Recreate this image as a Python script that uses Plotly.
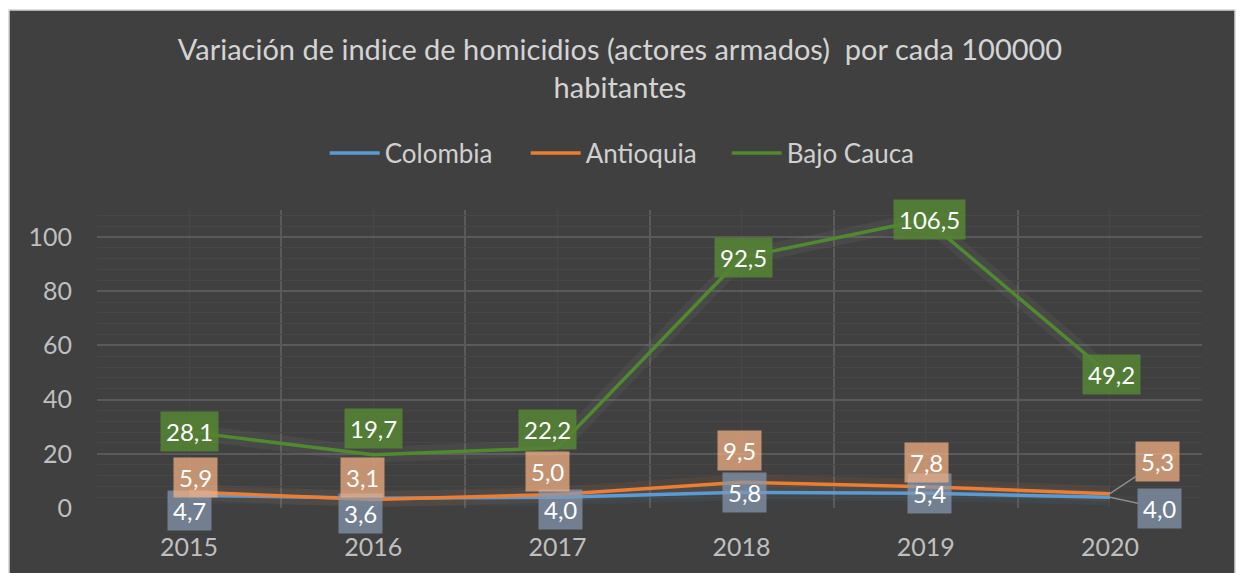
import plotly.graph_objects as go

# ---- data ----
years = ["2015", "2016", "2017", "2018", "2019", "2020"]
colombia = [4.7, 3.6, 4.0, 5.8, 5.4, 4.0]
antioquia = [5.9, 3.1, 5.0, 9.5, 7.8, 5.3]
bajo_cauca = [28.1, 19.7, 22.2, 92.5, 106.5, 49.2]
series_names = ["Colombia", "Antioquia", "Bajo Cauca"]
title_text = "Variación de indice de homicidios (actores armados)  por cada 100000<br>habitantes"

# ---- style / layout config ----
W, H = 1240, 573
ML, MR, MT, MB = 97, 38, 210, 65
PW, PH = W - ML - MR, H - MT - MB
line_colors = ["#5b9bd5", "#ed7d31", "#4f8a2e"]
shadow_colors = ["rgba(91,155,213,0.07)", "rgba(237,125,49,0.08)", "rgba(160,160,160,0.09)"]
box_colors = ["rgba(132,151,176,0.72)", "rgba(244,177,131,0.72)", "rgba(84,130,53,0.9)"]
# label offsets (xshift, yshift) in px for each series/point; ("arrow", ax, ay) -> leader line
label_offsets = [
    [(0, -15), (-13, -15), (3, -12), (3, 0), (4, 0), ("arrow", 50, 11)],
    [(6, 15), (-11, 22), (-10, 23), (-2, 32), (1, 24), ("arrow", 48, -32)],
    [(0, 0), (0, 26), (-10, 18), (2, 0), (4, 0), (2, 0)],
]
FONT = "Lato"

def px_to_paper_x(px):
    return (px - ML) / PW

def px_to_paper_y(py):
    return (H - MB - py) / PH

xs = list(range(len(years)))
all_series = [colombia, antioquia, bajo_cauca]

fig = go.Figure()

# soft shadows
for vals, sc in zip(all_series, shadow_colors):
    fig.add_trace(go.Scatter(x=xs, y=vals, mode="lines",
                             line=dict(color=sc, width=16),
                             hoverinfo="skip", showlegend=False))

for name, vals, lc in zip(series_names, all_series, line_colors):
    fig.add_trace(go.Scatter(x=xs, y=vals, mode="lines", name=name,
                             line=dict(color=lc, width=3.5)))

annotations = []
for vals, bc, offs in zip(all_series, box_colors, label_offsets):
    for i, v in enumerate(vals):
        txt = f"{v:.1f}".replace(".", ",")
        o = offs[i]
        base = dict(x=xs[i], y=v, xref="x", yref="y", text=txt,
                    font=dict(family=FONT, size=24, color="white"),
                    bgcolor=bc, borderpad=5)
        if o[0] == "arrow":
            base.update(showarrow=True, ax=o[1], ay=o[2], axref="pixel", ayref="pixel",
                        arrowhead=0, arrowwidth=1.5, arrowcolor="#8c8c8c", standoff=0)
        else:
            base.update(showarrow=False, xshift=o[0], yshift=o[1])
        annotations.append(base)

shapes = [
    dict(type="rect", xref="paper", yref="paper",
         x0=px_to_paper_x(9), x1=px_to_paper_x(1235),
         y0=px_to_paper_y(H + 20), y1=px_to_paper_y(10),
         fillcolor="#404040", line=dict(color="#d4d4d4", width=1.5), layer="below"),
]

fig.update_layout(
    width=W, height=H,
    margin=dict(l=ML, r=MR, t=MT, b=MB),
    paper_bgcolor="white",
    plot_bgcolor="rgba(0,0,0,0)",
    title=dict(text=title_text, x=0.5, xref="container", xanchor="center",
               y=1 - 60 / H, yanchor="top",
               font=dict(family=FONT, size=29, color="#d4d4d4", weight=400)),
    legend=dict(orientation="h", xref="container", x=0.505, xanchor="center",
                yref="container", y=1 - 153 / H, yanchor="middle",
                font=dict(family=FONT, size=26, color="#d0d0d0"),
                bgcolor="rgba(0,0,0,0)", itemwidth=50,
                entrywidth=136, entrywidthmode="pixels"),
    xaxis=dict(range=[-0.5, len(years) - 0.5], tickmode="array", tickvals=xs, ticktext=years,
               showgrid=True, gridcolor="#484848", gridwidth=1,
               minor=dict(tickmode="array", tickvals=[i - 0.5 for i in range(len(years) + 1)],
                          showgrid=True, gridcolor="#5a5a5a", gridwidth=1.5),
               zeroline=False, showline=False, ticks="",
               tickfont=dict(family=FONT, size=25, color="#bfbfbf"),
               ticklabelstandoff=22, fixedrange=True),
    yaxis=dict(range=[0, 110], tickmode="linear", tick0=0, dtick=20,
               showgrid=True, gridcolor="#5a5a5a", gridwidth=1.5,
               minor=dict(dtick=4, showgrid=True, gridcolor="#474747", gridwidth=1),
               zeroline=False, showline=False, ticks="",
               tickfont=dict(family=FONT, size=25, color="#bfbfbf"),
               ticklabelstandoff=24, fixedrange=True),
    annotations=annotations,
    shapes=shapes,
    hovermode=False,
)

fig.write_html("out.html", config={"displayModeBar": False},
               post_script="document.body.style.margin='0';")
